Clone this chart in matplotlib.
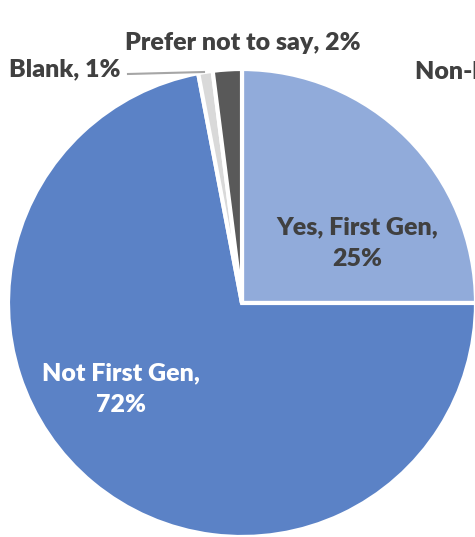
import matplotlib
matplotlib.use("Agg")
import matplotlib.pyplot as plt

# first-generation status breakdown
labels = ["Yes, First Gen", "Not First Gen", "Blank", "Prefer not to say"]
pcts = [25, 72, 1, 2]
colors = ["#91ABDA", "#5B82C6", "#D9D9D9", "#595959"]

W, H = 475, 537
fig = plt.figure(figsize=(W / 100, H / 100), dpi=100)
ax = fig.add_axes([0, 0, 1, 1])
plt.rcParams["font.family"] = ["Lato", "DejaVu Sans"]

cx, cy, r = 242, H - 303, 234
ax.pie(pcts, colors=colors, startangle=90, counterclock=False,
       center=(cx, cy), radius=r,
       wedgeprops=dict(edgecolor="white", linewidth=3))
ax.set_xlim(0, W)
ax.set_ylim(0, H)
ax.set_aspect("equal")
ax.axis("off")

dark = "#404040"
fs = 18
lab = [f"{n}, {p}%" for n, p in zip(labels, pcts)]
ax.text(357, H - 243, lab[0].replace("Gen, ", "Gen,\n"), ha="center", va="center",
        fontsize=fs, fontweight="heavy", color=dark, linespacing=1.5)
ax.text(121, H - 389, lab[1].replace("Gen, ", "Gen,\n"), ha="center", va="center",
        fontsize=fs, fontweight="heavy", color="white", linespacing=1.5)
ax.text(65, H - 69, lab[2], ha="center", va="center",
        fontsize=fs, fontweight="heavy", color=dark)
ax.text(243, H - 43, lab[3], ha="center", va="center",
        fontsize=fs, fontweight="heavy", color=dark)
ax.text(415, H - 72, "Non-binary, 0%", ha="left", va="center",
        fontsize=fs, fontweight="heavy", color=dark, clip_on=True)
# leader line for the Blank slice
ax.plot([128, 204], [H - 74, H - 72], color="#A6A6A6", lw=1.5)

fig.savefig("out.png", dpi=100, facecolor="white")
